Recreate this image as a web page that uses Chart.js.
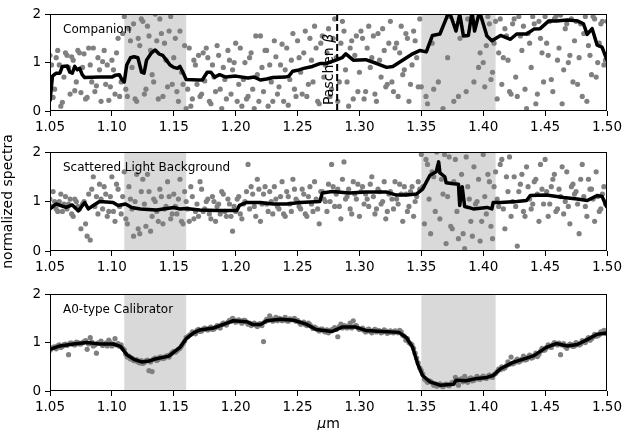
<!DOCTYPE html>
<html>
<head>
<meta charset="utf-8">
<script src="https://cdn.jsdelivr.net/npm/chart.js@4.4.1/dist/chart.umd.min.js"></script>
<style>
    html, body { margin: 0; padding: 0; background: #fff; }
    #wrap { position: relative; width: 634px; height: 430px; overflow: hidden; }
    canvas { position: absolute; left: 0; }
</style>
</head>
<body>
<div id="wrap">
    <canvas id="panel-companion" width="634" height="139" style="top:2px"></canvas>
    <canvas id="panel-scattered" width="634" height="189" style="top:92px"></canvas>
    <canvas id="panel-calibrator" width="634" height="148" style="top:282px"></canvas>
</div>
<script>
// wavelength grid of the sampled spectra (um), two interleaved sets
const wavelength = [
    1.05,1.0525,1.055,1.0575,1.06,1.0625,1.065,1.0675,1.07,1.0725,
    1.075,1.0775,1.08,1.0825,1.085,1.0875,1.09,1.0925,1.095,1.0975,
    1.1,1.1025,1.105,1.1075,1.11,1.1125,1.115,1.1175,1.12,1.1225,
    1.125,1.1275,1.13,1.1325,1.135,1.1375,1.14,1.1425,1.145,1.1475,
    1.15,1.1525,1.155,1.1575,1.16,1.1625,1.165,1.1675,1.17,1.1725,
    1.175,1.1775,1.18,1.1825,1.185,1.1875,1.19,1.1925,1.195,1.1975,
    1.2,1.2025,1.205,1.2075,1.21,1.2125,1.215,1.2175,1.22,1.2225,
    1.225,1.2275,1.23,1.2325,1.235,1.2375,1.24,1.2425,1.245,1.2475,
    1.25,1.2525,1.255,1.2575,1.26,1.2625,1.265,1.2675,1.27,1.2725,
    1.275,1.2775,1.28,1.2825,1.285,1.2875,1.29,1.2925,1.295,1.2975,
    1.3,1.3025,1.305,1.3075,1.31,1.3125,1.315,1.3175,1.32,1.3225,
    1.325,1.3275,1.33,1.3325,1.335,1.3375,1.34,1.3425,1.345,1.3475,
    1.35,1.3525,1.355,1.3575,1.36,1.3625,1.365,1.3675,1.37,1.3725,
    1.375,1.3775,1.38,1.3825,1.385,1.3875,1.39,1.3925,1.395,1.3975,
    1.4,1.4025,1.405,1.4075,1.41,1.4125,1.415,1.4175,1.42,1.4225,
    1.425,1.4275,1.43,1.4325,1.435,1.4375,1.44,1.4425,1.445,1.4475,
    1.45,1.4525,1.455,1.4575,1.46,1.4625,1.465,1.4675,1.47,1.4725,
    1.475,1.4775,1.48,1.4825,1.485,1.4875,1.49,1.4925,1.495,1.4975,
    1.5
];
const wavelengthB = [
    1.05125,1.05375,1.05625,1.05875,1.06125,1.06375,1.06625,1.06875,1.07125,1.07375,
    1.07625,1.07875,1.08125,1.08375,1.08625,1.08875,1.09125,1.09375,1.09625,1.09875,
    1.10125,1.10375,1.10625,1.10875,1.11125,1.11375,1.11625,1.11875,1.12125,1.12375,
    1.12625,1.12875,1.13125,1.13375,1.13625,1.13875,1.14125,1.14375,1.14625,1.14875,
    1.15125,1.15375,1.15625,1.15875,1.16125,1.16375,1.16625,1.16875,1.17125,1.17375,
    1.17625,1.17875,1.18125,1.18375,1.18625,1.18875,1.19125,1.19375,1.19625,1.19875,
    1.20125,1.20375,1.20625,1.20875,1.21125,1.21375,1.21625,1.21875,1.22125,1.22375,
    1.22625,1.22875,1.23125,1.23375,1.23625,1.23875,1.24125,1.24375,1.24625,1.24875,
    1.25125,1.25375,1.25625,1.25875,1.26125,1.26375,1.26625,1.26875,1.27125,1.27375,
    1.27625,1.27875,1.28125,1.28375,1.28625,1.28875,1.29125,1.29375,1.29625,1.29875,
    1.30125,1.30375,1.30625,1.30875,1.31125,1.31375,1.31625,1.31875,1.32125,1.32375,
    1.32625,1.32875,1.33125,1.33375,1.33625,1.33875,1.34125,1.34375,1.34625,1.34875,
    1.35125,1.35375,1.35625,1.35875,1.36125,1.36375,1.36625,1.36875,1.37125,1.37375,
    1.37625,1.37875,1.38125,1.38375,1.38625,1.38875,1.39125,1.39375,1.39625,1.39875,
    1.40125,1.40375,1.40625,1.40875,1.41125,1.41375,1.41625,1.41875,1.42125,1.42375,
    1.42625,1.42875,1.43125,1.43375,1.43625,1.43875,1.44125,1.44375,1.44625,1.44875,
    1.45125,1.45375,1.45625,1.45875,1.46125,1.46375,1.46625,1.46875,1.47125,1.47375,
    1.47625,1.47875,1.48125,1.48375,1.48625,1.48875,1.49125,1.49375,1.49625,1.49875
];

const companionFlux = [
    1.15,0.28,1.10,0.95,0.18,1.20,0.90,1.12,0.42,1.25,
    0.38,1.18,0.28,0.95,1.30,0.52,0.85,1.02,0.55,0.22,
    1.05,0.35,1.50,0.60,1.95,0.30,1.45,1.80,0.20,1.35,
    1.85,0.45,1.55,0.75,2.00,0.25,1.60,1.40,0.50,1.95,
    1.10,0.40,1.65,0.55,0.05,1.30,0.25,0.95,1.15,0.35,
    0.62,1.10,0.15,0.70,1.35,0.45,0.90,0.25,1.05,0.85,
    1.40,0.55,0.10,1.00,0.30,1.20,0.05,0.75,1.55,0.40,
    1.25,0.95,0.20,1.12,0.50,1.38,0.85,0.12,1.05,0.45,
    1.45,0.80,1.20,0.30,1.50,0.60,1.30,0.15,1.55,0.95,
    1.70,0.45,1.90,0.20,1.40,1.65,0.60,1.30,0.25,1.55,
    0.80,1.50,0.40,1.75,1.10,0.35,1.60,0.70,1.25,0.55,
    1.85,0.40,1.40,1.20,0.75,1.60,0.20,0.95,1.45,0.50,
    0.50,2.30,0.15,2.40,0.45,2.20,2.50,0.05,2.35,1.95,
    2.40,2.20,0.30,2.60,2.10,1.90,2.30,0.60,2.45,1.20,
    1.00,1.35,1.80,0.80,1.85,1.20,0.55,1.70,1.05,0.35,
    1.90,0.30,1.55,1.75,0.05,1.40,1.95,0.15,1.85,1.20,
    1.95,1.15,0.65,1.90,1.05,1.98,0.85,1.80,1.15,0.60,
    1.85,1.10,0.30,1.95,1.35,0.75,1.90,1.00,1.80,0.95,
    1.85
];
const companionFluxB = [
    0.95,0.45,1.25,0.10,0.70,1.15,0.35,1.05,0.60,1.20,
    0.90,0.25,1.30,0.60,0.40,1.10,0.20,1.25,0.95,0.50,
    0.85,1.20,0.30,1.60,0.45,1.70,0.90,0.25,1.50,1.90,
    0.35,1.75,1.25,0.60,1.45,1.90,0.30,1.05,1.65,0.55,
    1.50,0.20,0.80,1.35,0.45,0.10,1.05,0.55,0.30,1.20,
    1.30,0.20,0.95,0.40,1.15,0.05,0.65,1.25,0.35,1.00,
    0.20,1.30,0.65,0.25,1.10,0.45,1.55,0.20,0.90,1.25,
    0.10,0.60,1.45,0.35,0.95,0.20,1.30,0.65,1.60,0.30,
    1.10,0.35,1.65,0.55,1.05,1.75,0.20,1.40,0.70,1.20,
    0.30,1.50,1.10,0.60,1.85,0.85,0.10,1.45,1.15,0.40,
    1.65,0.25,1.30,0.90,1.55,0.20,1.05,1.70,0.50,1.40,
    0.60,1.30,0.30,1.75,0.85,1.50,0.55,1.65,1.10,1.90,
    2.20,0.30,2.60,1.40,2.10,0.60,2.30,2.70,1.10,2.40,
    0.20,2.50,1.50,2.20,0.40,2.35,2.05,2.60,0.90,2.25,
    0.50,1.95,0.65,1.40,0.25,1.90,1.10,1.55,0.40,1.80,
    0.70,1.95,1.25,0.45,1.60,0.90,1.80,0.35,1.50,0.60,
    1.40,1.85,0.40,1.95,1.30,0.15,1.70,1.00,1.90,1.45,
    0.55,1.80,1.60,0.20,1.15,1.95,0.70,1.40,1.85,1.05
];

const scatteredFlux = [
    1.05,1.20,0.85,1.00,0.80,1.10,0.95,0.75,1.05,0.90,
    0.45,1.00,0.30,0.22,1.50,1.10,1.35,0.85,1.15,0.80,
    1.50,0.60,1.25,0.75,1.60,0.55,1.05,0.30,1.55,0.35,
    1.45,0.50,1.20,0.70,1.00,0.60,1.10,0.85,1.40,0.65,
    1.15,0.75,1.45,0.55,1.00,0.60,1.10,0.80,0.70,1.25,
    0.85,1.05,0.65,1.00,0.90,0.75,1.15,0.70,0.95,0.40,
    0.80,1.10,0.65,1.00,1.75,1.30,0.90,1.45,0.60,1.15,
    0.95,1.20,0.75,1.05,0.85,1.40,0.70,1.10,0.80,1.25,
    1.00,0.85,1.15,0.70,1.30,0.80,1.05,0.55,1.20,1.00,
    1.35,1.75,0.90,1.25,0.65,1.80,1.10,0.85,1.40,1.05,
    0.70,1.30,1.15,0.90,1.50,0.75,1.25,0.95,1.40,0.80,
    1.20,0.85,1.05,1.35,0.60,1.15,0.90,1.30,1.00,1.40,
    1.95,0.55,1.75,0.35,1.50,2.00,0.65,1.15,0.15,1.90,
    0.45,1.85,0.25,1.55,0.05,1.30,0.60,1.70,1.00,0.20,
    1.95,0.75,1.40,0.25,1.60,0.90,1.85,0.45,1.20,0.70,
    1.50,0.10,1.35,0.80,1.70,1.05,0.95,1.45,0.60,1.25,
    1.85,0.70,1.30,1.55,0.85,1.10,0.75,1.60,0.55,1.35,
    1.20,0.35,1.75,0.90,1.45,1.25,0.60,1.10,0.85,1.30,
    1.00
];
const scatteredFluxB = [
    0.90,1.00,0.80,1.15,0.95,0.85,1.05,0.70,1.00,0.85,
    0.95,0.55,1.15,1.25,0.90,0.75,1.05,1.30,0.70,1.10,
    0.80,1.35,0.90,1.10,0.65,1.30,0.85,1.00,0.45,1.20,
    0.95,1.55,0.40,1.05,0.80,1.25,0.55,0.90,1.10,0.75,
    0.90,1.05,0.60,1.20,0.85,1.30,0.65,0.95,1.40,0.80,
    1.00,0.75,1.10,0.60,0.95,1.20,0.80,1.05,0.70,0.90,
    1.05,0.75,0.95,1.20,0.85,1.15,0.70,1.25,0.95,1.30,
    0.80,1.00,1.30,0.90,1.10,0.75,1.20,0.95,1.45,1.05,
    0.90,1.25,0.75,1.10,0.95,1.40,0.85,1.20,1.05,0.80,
    1.00,1.30,1.15,0.90,1.45,1.05,1.25,0.75,1.15,1.35,
    1.20,0.95,1.05,1.35,1.10,0.85,1.20,1.00,0.65,1.15,
    1.05,1.40,0.95,1.15,1.30,0.80,1.20,0.70,1.10,1.25,
    1.30,1.85,1.05,1.60,0.80,1.70,1.45,1.95,1.10,0.50,
    1.40,0.80,1.15,0.35,1.90,1.05,0.30,0.95,1.45,0.60,
    1.10,1.55,0.50,1.30,1.05,1.75,0.85,1.50,1.90,1.00,
    0.90,1.20,1.55,0.70,1.30,0.85,1.40,1.15,1.75,0.95,
    1.20,0.95,1.45,0.80,1.25,1.70,1.00,0.90,1.30,1.15,
    0.95,1.45,1.10,0.70,1.25,1.05,1.60,0.80,1.15,0.95
];

const calibratorFlux = [
    0.84,0.90,0.87,0.95,0.92,0.97,0.75,0.99,0.95,1.00,
    0.97,1.02,0.86,1.10,0.93,0.78,1.00,0.94,0.99,1.05,
    0.93,1.08,0.98,0.95,0.85,0.70,0.66,0.63,0.65,0.58,
    0.57,0.62,0.42,0.40,0.68,0.65,0.70,0.68,0.73,0.76,
    0.82,0.83,0.88,0.98,1.10,1.15,1.22,1.18,1.27,1.24,
    1.30,1.26,1.32,1.28,1.35,1.30,1.40,1.36,1.46,1.50,
    1.42,1.47,1.40,1.46,1.38,1.35,1.40,1.33,1.39,1.02,
    1.48,1.55,1.44,1.52,1.50,1.45,1.52,1.44,1.48,1.50,
    1.46,1.38,1.42,1.35,1.37,1.29,1.30,1.24,1.28,1.22,
    1.20,1.26,1.31,1.12,1.38,1.35,1.30,1.40,1.45,1.35,
    1.27,1.30,1.22,1.28,1.20,1.27,1.25,1.20,1.26,1.19,
    1.24,1.20,1.23,1.25,1.15,1.05,1.00,0.95,0.78,0.58,
    0.42,0.25,0.18,0.20,0.12,0.10,0.15,0.09,0.14,0.11,
    0.18,0.28,0.12,0.25,0.30,0.18,0.27,0.22,0.30,0.24,
    0.31,0.26,0.33,0.28,0.36,0.45,0.50,0.48,0.60,0.70,
    0.58,0.66,0.62,0.72,0.65,0.74,0.69,0.78,0.76,0.88,
    0.85,0.95,0.90,1.00,0.95,0.75,0.98,0.88,0.97,0.92,
    1.00,0.95,1.04,1.00,1.10,1.08,1.17,1.14,1.22,1.25,
    1.18
];
const calibratorFluxB = [
    0.88,0.91,0.93,0.90,0.96,0.94,0.99,0.96,1.01,0.97,
    1.00,1.04,0.97,1.01,0.95,0.99,1.03,0.96,0.93,1.00,
    0.97,0.95,0.92,0.88,0.76,0.72,0.68,0.62,0.60,0.63,
    0.59,0.64,0.60,0.66,0.63,0.70,0.67,0.72,0.70,0.79,
    0.80,0.86,0.93,1.03,1.12,1.17,1.19,1.25,1.23,1.28,
    1.27,1.30,1.27,1.31,1.33,1.37,1.38,1.42,1.44,1.47,
    1.45,1.43,1.46,1.42,1.40,1.38,1.36,1.38,1.35,1.43,
    1.46,1.49,1.47,1.45,1.49,1.47,1.45,1.49,1.47,1.44,
    1.42,1.40,1.37,1.40,1.33,1.32,1.27,1.28,1.24,1.26,
    1.24,1.28,1.27,1.33,1.30,1.34,1.33,1.30,1.34,1.30,
    1.28,1.25,1.26,1.23,1.25,1.22,1.24,1.22,1.24,1.21,
    1.22,1.24,1.20,1.22,1.13,1.08,0.98,0.88,0.68,0.48,
    0.35,0.22,0.21,0.17,0.15,0.13,0.11,0.13,0.12,0.15,
    0.16,0.21,0.24,0.19,0.22,0.25,0.21,0.26,0.25,0.28,
    0.27,0.30,0.29,0.34,0.40,0.44,0.46,0.52,0.55,0.56,
    0.62,0.60,0.66,0.64,0.70,0.68,0.73,0.71,0.82,0.84,
    0.90,0.92,0.96,0.97,0.99,0.95,0.92,0.94,0.96,0.93,
    0.98,0.97,1.02,1.06,1.05,1.12,1.13,1.16,1.20,1.19
];

// smoothed curves
const companionLineX = [1.050,1.052,1.055,1.058,1.060,1.064,1.066,1.068,1.070,1.072,1.074,1.076,1.078,1.090,1.100,1.103,1.106,1.108,1.110,1.112,1.115,1.118,1.121,1.124,1.126,1.128,1.132,1.135,1.138,1.141,1.144,1.147,1.150,1.153,1.155,1.157,1.160,1.170,1.173,1.177,1.180,1.183,1.187,1.192,1.200,1.210,1.215,1.220,1.225,1.230,1.240,1.243,1.246,1.250,1.255,1.262,1.268,1.273,1.281,1.286,1.289,1.295,1.305,1.314,1.322,1.327,1.332,1.338,1.343,1.349,1.354,1.359,1.365,1.370,1.372,1.374,1.378,1.381,1.384,1.388,1.391,1.393,1.397,1.400,1.403,1.407,1.414,1.422,1.427,1.435,1.441,1.446,1.453,1.459,1.468,1.476,1.481,1.484,1.488,1.492,1.496,1.500];
const companionLineY = [0.20,0.72,0.78,0.78,0.92,0.93,0.80,0.78,0.92,0.85,0.88,0.75,0.69,0.70,0.70,0.74,0.75,0.65,0.60,0.95,1.10,1.12,1.10,0.80,0.78,1.05,1.20,1.26,1.18,1.15,1.05,0.95,0.90,0.88,0.92,0.82,0.65,0.64,0.64,0.80,0.80,0.70,0.75,0.70,0.72,0.68,0.70,0.64,0.66,0.69,0.70,0.72,0.82,0.84,0.88,0.92,0.98,0.98,1.05,1.10,1.18,1.05,1.06,0.98,0.90,0.92,1.00,1.10,1.18,1.25,1.22,1.56,1.59,1.90,2.05,1.95,1.65,2.00,1.55,1.56,2.05,1.65,2.05,1.80,1.55,1.45,1.56,1.48,1.59,1.59,1.69,1.70,1.86,1.86,1.88,1.86,1.80,1.58,1.70,1.36,1.32,1.05];

const scatteredLineX = [1.050,1.055,1.063,1.068,1.073,1.078,1.081,1.085,1.090,1.101,1.105,1.111,1.116,1.123,1.136,1.150,1.155,1.160,1.171,1.185,1.201,1.203,1.209,1.220,1.230,1.241,1.252,1.268,1.270,1.278,1.292,1.305,1.322,1.330,1.338,1.346,1.351,1.357,1.362,1.364,1.365,1.369,1.370,1.376,1.380,1.381,1.383,1.385,1.388,1.392,1.403,1.407,1.408,1.414,1.427,1.435,1.438,1.451,1.465,1.476,1.484,1.492,1.496,1.500];
const scatteredLineY = [0.85,0.95,0.88,0.93,0.81,0.98,0.85,0.92,1.00,0.98,0.92,0.95,0.88,0.85,0.83,0.88,0.85,0.86,0.83,0.82,0.82,0.92,0.98,0.98,0.95,0.95,0.98,1.00,1.17,1.20,1.17,1.19,1.19,1.13,1.13,1.15,1.25,1.53,1.60,1.80,1.58,1.50,1.38,1.36,1.35,0.92,1.30,0.90,0.88,0.85,0.88,0.85,0.98,0.98,1.00,1.02,1.12,1.13,1.08,1.05,1.02,1.12,1.10,0.88];

const calibratorLineX = [1.050,1.058,1.069,1.080,1.090,1.101,1.107,1.112,1.118,1.124,1.130,1.135,1.146,1.149,1.155,1.160,1.166,1.171,1.182,1.193,1.198,1.209,1.214,1.220,1.225,1.236,1.247,1.257,1.265,1.278,1.286,1.297,1.305,1.319,1.332,1.338,1.343,1.347,1.351,1.357,1.365,1.376,1.378,1.386,1.395,1.403,1.408,1.414,1.424,1.435,1.441,1.451,1.459,1.468,1.476,1.484,1.492,1.500];
const calibratorLineY = [0.86,0.93,0.97,1.00,0.97,0.97,0.92,0.75,0.65,0.60,0.62,0.66,0.72,0.78,0.90,1.08,1.20,1.26,1.30,1.40,1.45,1.43,1.37,1.37,1.45,1.48,1.46,1.38,1.27,1.23,1.32,1.32,1.25,1.23,1.21,1.10,0.90,0.56,0.32,0.19,0.12,0.14,0.22,0.21,0.26,0.28,0.32,0.46,0.59,0.68,0.73,0.90,0.98,0.93,0.96,1.06,1.17,1.20];

const shadeBands = [[1.11, 1.16], [1.35, 1.41]];
const paschenBeta = 1.282;
const xTicks = [1.05, 1.10, 1.15, 1.20, 1.25, 1.30, 1.35, 1.40, 1.45, 1.50];
const yTicks = [0, 1, 2];

const FONT = "'DejaVu Sans', sans-serif";

const decor = (opts) => ({
    id: "decor",
    beforeDatasetsDraw(chart) {
        const {ctx, chartArea: a, scales: {x}} = chart;
        ctx.save();
        ctx.fillStyle = "#d9d9d9";
        shadeBands.forEach(([lo, hi]) => {
            const x0 = x.getPixelForValue(lo);
            const x1 = x.getPixelForValue(hi);
            ctx.fillRect(x0, a.top, x1 - x0, a.bottom - a.top);
        });
        ctx.restore();
    },
    afterDatasetsDraw(chart) {
        const {ctx, chartArea: a, scales: {x}} = chart;
        ctx.save();
        if (opts.marker) {
            const px = x.getPixelForValue(paschenBeta);
            ctx.strokeStyle = "#000";
            ctx.lineWidth = 2;
            ctx.setLineDash([7, 3]);
            ctx.beginPath();
            ctx.moveTo(px, a.top);
            ctx.lineTo(px, a.bottom);
            ctx.stroke();
            ctx.setLineDash([]);

            ctx.save();
            ctx.translate(px - 4, a.bottom - 6);
            ctx.rotate(-Math.PI / 2);
            ctx.fillStyle = "#000";
            ctx.textAlign = "left";
            ctx.textBaseline = "alphabetic";
            ctx.font = `14px ${FONT}`;
            const word = "Paschen ";
            ctx.fillText(word, 0, 0);
            const w = ctx.measureText(word).width;
            ctx.font = `italic 14px ${FONT}`;
            ctx.fillText("β", w, 0);
            ctx.restore();
        }

        // axes frame
        ctx.strokeStyle = "#000";
        ctx.lineWidth = 1;
        const l = Math.round(a.left) + 0.5, r = Math.round(a.right) - 0.5;
        const t = Math.round(a.top) + 0.5, b = Math.round(a.bottom) - 0.5;
        ctx.strokeRect(l, t, r - l, b - t);

        ctx.fillStyle = "#000";
        ctx.font = `12px ${FONT}`;
        ctx.textAlign = "left";
        ctx.textBaseline = "alphabetic";
        ctx.fillText(opts.label, a.left + 13, a.top + 19);

        if (opts.xlabel) {
            ctx.font = `italic 14px ${FONT}`;
            const wm = ctx.measureText("μ").width;
            ctx.font = `14px ${FONT}`;
            const wn = ctx.measureText("m").width;
            const cx = (a.left + a.right) / 2 - (wm + wn) / 2;
            const cy = a.bottom + 37;
            ctx.font = `italic 14px ${FONT}`;
            ctx.fillText("μ", cx, cy);
            ctx.font = `14px ${FONT}`;
            ctx.fillText("m", cx + wm, cy);
        }
        ctx.restore();
    }
});

const buildPanel = (id, fluxA, fluxB, lineX, lineY, opts) => {
    const ctx = document.getElementById(id).getContext("2d");
    const samples = wavelength.map((v, i) => ({x: v, y: fluxA[i]}))
        .concat(wavelengthB.map((v, i) => ({x: v, y: fluxB[i]})));
    return new Chart(ctx, {
        type: "scatter",
        data: {
            datasets: [
                {
                    type: "line",
                    data: lineX.map((v, i) => ({x: v, y: lineY[i]})),
                    borderColor: "#000",
                    borderWidth: 3.5,
                    pointRadius: 0,
                    tension: 0,
                    borderJoinStyle: "round",
                    order: 0,
                    clip: 0,
                },
                {
                    data: samples,
                    pointRadius: 2.6,
                    pointBackgroundColor: "#808080",
                    pointBorderWidth: 0,
                    backgroundColor: "#808080",
                    borderColor: "#808080",
                    order: 1,
                    clip: 0,
                },
            ],
        },
        options: {
            responsive: false,
            animation: false,
            devicePixelRatio: 1,
            layout: {
                padding: {top: opts.padTop, right: 27, left: 0, bottom: 0},
            },
            plugins: {
                legend: {display: false},
                tooltip: {enabled: false},
            },
            scales: {
                x: {
                    type: "linear",
                    min: 1.05,
                    max: 1.5,
                    afterBuildTicks: (s) => { s.ticks = xTicks.map((v) => ({value: v})); },
                    afterFit: (s) => { s.height = opts.xHeight; },
                    ticks: {
                        callback: (v) => Number(v).toFixed(2),
                        color: "#000",
                        font: {family: FONT, size: 13.5},
                        padding: 3,
                        maxRotation: 0,
                        autoSkip: false,
                    },
                    grid: {
                        drawOnChartArea: false,
                        tickLength: 5,
                        color: "#000",
                    },
                    border: {display: false},
                },
                y: {
                    min: 0,
                    max: 2,
                    afterBuildTicks: (s) => { s.ticks = yTicks.map((v) => ({value: v})); },
                    afterFit: (s) => { s.width = 50; },
                    ticks: {
                        callback: (v) => String(v),
                        color: "#000",
                        font: {family: FONT, size: 13.5},
                        padding: 4,
                    },
                    grid: {
                        drawOnChartArea: false,
                        tickLength: 5,
                        color: "#000",
                    },
                    border: {display: false},
                    title: {
                        display: !!opts.ylabel,
                        text: opts.ylabel || "",
                        color: "#000",
                        font: {family: FONT, size: 14},
                        padding: 0,
                    },
                },
            },
        },
        plugins: [decor(opts)],
    });
};

buildPanel("panel-companion", companionFlux, companionFluxB, companionLineX, companionLineY,
    {label: "Companion", marker: true, xHeight: 30, padTop: 10});
buildPanel("panel-scattered", scatteredFlux, scatteredFluxB, scatteredLineX, scatteredLineY,
    {label: "Scattered Light Background", ylabel: "normalized spectra", xHeight: 30, padTop: 60});
buildPanel("panel-calibrator", calibratorFlux, calibratorFluxB, calibratorLineX, calibratorLineY,
    {label: "A0-type Calibrator", xlabel: true, xHeight: 39, padTop: 10});
</script>
</body>
</html>
